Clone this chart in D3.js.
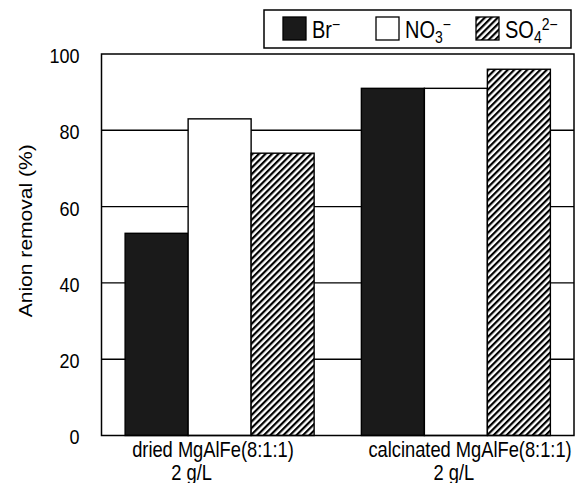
<!DOCTYPE html>
<html>
<head>
<meta charset="utf-8">
<script src="https://cdn.jsdelivr.net/npm/d3@7"></script>
<style>
  html, body { margin: 0; padding: 0; background: #fff; }
  svg { display: block; font-family: "Liberation Sans", Arial, sans-serif; }
</style>
</head>
<body>
<svg id="chart" width="580" height="483"></svg>
<script>
// Adsorbent samples (x categories), two lines each
const categories = ["dried MgAlFe(8:1:1)", "calcinated MgAlFe(8:1:1)"];
const categoryLine2 = ["2 g/L", "2 g/L"];

// Anions compared
const seriesKeys = ["Br", "NO3", "SO4"];

// Anion removal (%) per sample, one array per anion
const brValues  = [53, 91];
const no3Values = [83, 91];
const so4Values = [74, 96];

const yTicks = [0, 20, 40, 60, 80, 100];

const valuesByKey = { Br: brValues, NO3: no3Values, SO4: so4Values };

const svg = d3.select("#chart");
const plot = { left: 101.5, right: 574, top: 54, bottom: 435.5 };
// Glyphs are drawn slightly tall and narrow
const TALL = 1.17;

// Fills: dense black, open white, diagonal hatch
const defs = svg.append("defs");
const hatch = defs.append("pattern")
  .attr("id", "hatch")
  .attr("patternUnits", "userSpaceOnUse")
  .attr("width", 4.6).attr("height", 4.6)
  .attr("patternTransform", "rotate(45)");
hatch.append("rect").attr("width", 4.6).attr("height", 4.6).attr("fill", "#fff");
hatch.append("rect").attr("x", 0).attr("y", 0).attr("width", 2.2).attr("height", 4.6).attr("fill", "#000");

const fills = { Br: "#1a1a1a", NO3: "#ffffff", SO4: "url(#hatch)" };

const x0 = d3.scaleBand()
  .domain(categories)
  .range([plot.left, plot.right])
  .paddingInner(0.2)
  .paddingOuter(0.1);

const x1 = d3.scaleBand()
  .domain(seriesKeys)
  .range([0, x0.bandwidth()])
  .padding(0);

const y = d3.scaleLinear()
  .domain([0, 100])
  .range([plot.bottom, plot.top]);

// Horizontal text with the tall glyph stretch, anchored at (x, y)
function tallText(parent, x, yPos, size, anchor, str) {
  return parent.append("text")
    .attr("transform", `translate(${x},${yPos}) scale(1,${TALL})`)
    .attr("text-anchor", anchor)
    .attr("font-size", size)
    .attr("fill", "#000")
    .text(str);
}

// Horizontal grid lines (behind the bars)
svg.append("g")
  .selectAll("line")
  .data(yTicks.filter(t => t > 0 && t < 100))
  .join("line")
  .attr("x1", plot.left).attr("x2", plot.right)
  .attr("y1", d => y(d)).attr("y2", d => y(d))
  .attr("stroke", "#000").attr("stroke-width", 1.4);

// Bars
const groups = svg.append("g")
  .selectAll("g")
  .data(categories.map((c, i) => ({ c, i })))
  .join("g")
  .attr("transform", d => `translate(${x0(d.c)},0)`);

groups.selectAll("rect")
  .data(d => seriesKeys.map(k => ({ k, v: valuesByKey[k][d.i] })))
  .join("rect")
  .attr("x", d => x1(d.k))
  .attr("y", d => y(d.v))
  .attr("width", x1.bandwidth())
  .attr("height", d => y(0) - y(d.v))
  .attr("fill", d => fills[d.k])
  .attr("stroke", "#000")
  .attr("stroke-width", 1.4);

// Plot frame
svg.append("rect")
  .attr("x", plot.left).attr("y", plot.top)
  .attr("width", plot.right - plot.left)
  .attr("height", plot.bottom - plot.top)
  .attr("fill", "none").attr("stroke", "#000").attr("stroke-width", 1.5);

// Y axis tick labels
const yAxis = d3.axisLeft(y).tickValues(yTicks).tickSize(0).tickPadding(22);
const yG = svg.append("g")
  .attr("transform", `translate(${plot.left},0)`)
  .call(yAxis);
yG.select(".domain").remove();
yG.selectAll("text")
  .attr("font-size", 18)
  .attr("font-family", "Liberation Sans, Arial, sans-serif")
  .attr("fill", "#000")
  .attr("dy", "0.4em")
  .attr("transform", `scale(1,${TALL})`);

// Y axis title
svg.append("text")
  .attr("transform", `translate(32,${(plot.top + plot.bottom) / 2 - 14}) rotate(-90) scale(${TALL},1)`)
  .attr("text-anchor", "middle")
  .attr("font-size", 18)
  .attr("fill", "#000")
  .text("Anion removal (%)");

// Category labels (two lines)
const line2Shift = [-28, -2];
const catG = svg.append("g");
categories.forEach((c, i) => {
  const start = x0(c);
  tallText(catG, start + 7, 457, 18.3, "start", c);
  tallText(catG, start + x0.bandwidth() / 2 + line2Shift[i], 480, 18.3, "middle", categoryLine2[i]);
});

// Legend
const legend = svg.append("g");
legend.append("rect")
  .attr("x", 264).attr("y", 10)
  .attr("width", 307).attr("height", 38)
  .attr("fill", "#fff").attr("stroke", "#000").attr("stroke-width", 1.5);

const legendItems = [
  { k: "Br",  x: 283, parts: [["Br", 0], ["\u2212", -1]] },
  { k: "NO3", x: 376, parts: [["NO", 0], ["3", 1], ["\u2212", -1]] },
  { k: "SO4", x: 476, parts: [["SO", 0], ["4", 1], ["2\u2212", -1]] }
];

legendItems.forEach(it => {
  legend.append("rect")
    .attr("x", it.x).attr("y", 17)
    .attr("width", 23).attr("height", 23)
    .attr("fill", fills[it.k])
    .attr("stroke", "#000").attr("stroke-width", 1.3);
  const t = tallText(legend, it.x + 29, 38, 20, "start", null);
  let prev = 0;
  it.parts.forEach(([s, lvl]) => {
    const offset = lvl === 1 ? 4 : lvl === -1 ? -7 : 0;
    t.append("tspan")
      .attr("dy", offset - prev)
      .attr("font-size", lvl === 0 ? 20 : 14)
      .text(s);
    prev = offset;
  });
});
</script>
</body>
</html>
